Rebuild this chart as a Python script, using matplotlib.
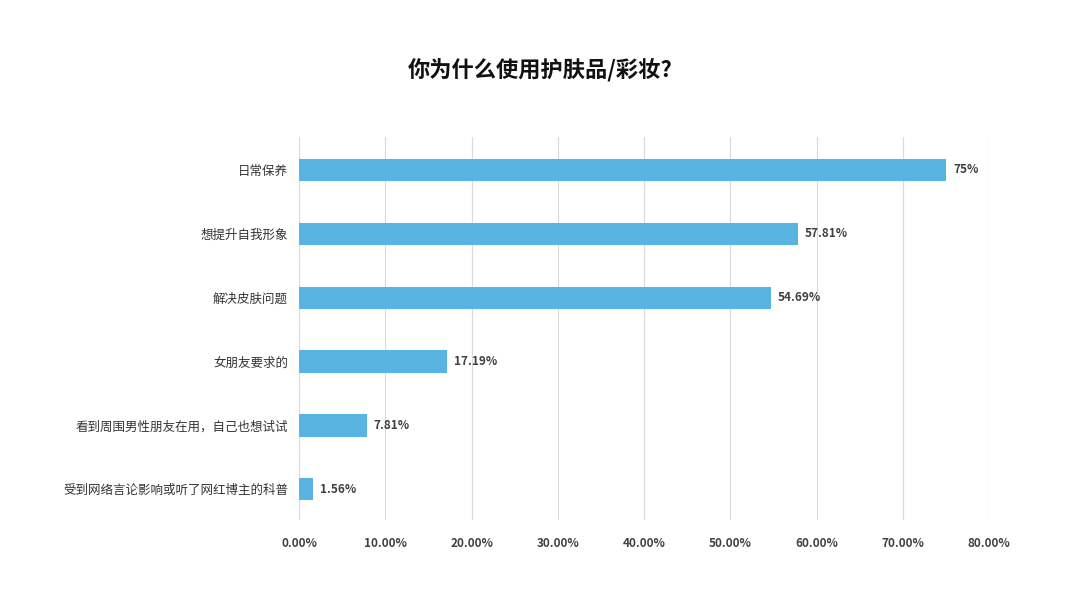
import matplotlib
matplotlib.use("Agg")
import matplotlib.pyplot as plt
from matplotlib.ticker import FuncFormatter

plt.rcParams['font.family'] = ['Noto Sans CJK SC', 'DejaVu Sans']

categories = ["日常保养", "想提升自我形象", "解决皮肤问题", "女朋友要求的",
              "看到周围男性朋友在用，自己也想试试", "受到网络言论影响或听了网红博主的科普"]
values = [75, 57.81, 54.69, 17.19, 7.81, 1.56]
labels = ["75%", "57.81%", "54.69%", "17.19%", "7.81%", "1.56%"]

fig = plt.figure(figsize=(10.8, 6.08), dpi=100)
ax = fig.add_axes([0.277, 0.145, 0.639, 0.63])
y = list(range(len(categories)))[::-1]
ax.barh(y, values, height=0.35, color="#5AB4E2", zorder=3)
for yi, v, l in zip(y, values, labels):
    ax.text(v + 0.8, yi, l, va="center", ha="left", fontsize=8.5, color="#404040", fontweight="bold")
ax.set_yticks(y)
ax.set_yticklabels(categories, fontsize=9, color="#333333")
ax.set_xlim(0, 80)
ax.set_ylim(-0.48, 5.52)
ax.set_xticks(range(0, 81, 10))
ax.xaxis.set_major_formatter(FuncFormatter(lambda v, p: f"{v:.2f}%"))
for t in ax.get_xticklabels():
    t.set_fontweight("bold")
ax.tick_params(axis="x", labelsize=8.5, colors="#404040", length=0, pad=12)
ax.tick_params(axis="y", length=0, pad=8)
ax.grid(axis="x", color="#D9D9D9", linewidth=0.8, zorder=0)
for s in ax.spines.values():
    s.set_visible(False)
fig.text(0.5, 0.885, "你为什么使用护肤品/彩妆?", ha="center", va="center",
         fontsize=16, fontweight="bold", color="#111111")
fig.savefig("out.png", dpi=100)
